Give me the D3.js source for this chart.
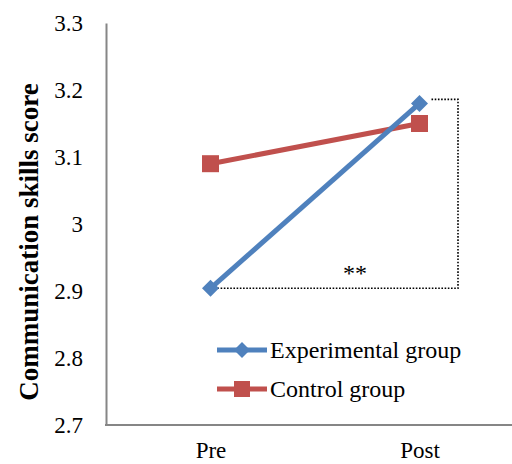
<!DOCTYPE html>
<html><head><meta charset="utf-8">
<script src="https://cdn.jsdelivr.net/npm/d3@7"></script>
<style>body{margin:0;background:#fff} svg text{font-family:"Liberation Serif","Times New Roman",Tinos,"DejaVu Serif",serif !important;}</style>
</head><body>
<svg id="c" width="512" height="464"></svg>
<script>
const categories = ["Pre", "Post"];
const experimental = [2.904, 3.18];
const control = [3.09, 3.15];
const yTicks = [2.7, 2.8, 2.9, 3, 3.1, 3.2, 3.3];
const seriesNames = ["Experimental group", "Control group"];

const svg = d3.select("#c");
const y = d3.scaleLinear().domain([2.7, 3.3]).range([425, 23]);
const x = d3.scalePoint().domain(categories).range([106, 524]).padding(0.5);

// axes
const yAxis = svg.append("g").attr("transform", "translate(106,0)")
  .call(d3.axisLeft(y).tickValues(yTicks).tickSize(0).tickPadding(23).tickFormat(d => d3.format("")(d)));
yAxis.select(".domain").attr("stroke", "#868686").attr("stroke-width", 2);
yAxis.selectAll("text").attr("font-size", 23).attr("fill", "#000");

svg.append("line").attr("x1", 105).attr("x2", 512).attr("y1", y(2.7)).attr("y2", y(2.7))
  .attr("stroke", "#868686").attr("stroke-width", 2);
const xAxis = svg.append("g").attr("transform", `translate(0,${y(2.7)})`)
  .call(d3.axisBottom(x).tickSize(0).tickPadding(17));
xAxis.select(".domain").remove();
xAxis.selectAll("text").attr("font-size", 23).attr("fill", "#000");

svg.append("text").attr("transform", "translate(38,242) rotate(-90)")
  .attr("text-anchor", "middle").attr("font-size", 27)
  .attr("font-weight", "bold").text("Communication skills score");

// bracket
const xPre = x("Pre"), xPost = x("Post");
const bx = 458;
svg.append("path")
  .attr("d", `M${xPost + 12},${y(experimental[1]) - 4}H${bx}V${y(experimental[0])}H${xPre + 6}`)
  .attr("fill", "none").attr("stroke", "#000").attr("stroke-width", 1.6).attr("stroke-dasharray", "1.6,1.6");
svg.append("text").attr("x", 355).attr("y", 281).attr("text-anchor", "middle")
  .attr("font-size", 24).text("**");

const line = d3.line().x((d, i) => x(categories[i])).y(d => y(d));
const blue = "#4F81BD", red = "#C0504D";
svg.append("path").datum(control).attr("d", line).attr("fill", "none").attr("stroke", red).attr("stroke-width", 5);
svg.append("path").datum(experimental).attr("d", line).attr("fill", "none").attr("stroke", blue).attr("stroke-width", 5);

const diamond = s => `M0,${-s}L${s},0L0,${s}L${-s},0Z`;
svg.selectAll(".sq").data(control).enter().append("rect")
  .attr("x", (d, i) => x(categories[i]) - 8.5).attr("y", d => y(d) - 8.5)
  .attr("width", 17).attr("height", 17).attr("fill", red);
svg.selectAll(".dm").data(experimental).enter().append("path")
  .attr("transform", (d, i) => `translate(${x(categories[i])},${y(d)})`)
  .attr("d", diamond(8.5)).attr("fill", blue);

// legend
const leg = [{name: seriesNames[0], c: blue, m: "d", yy: 350}, {name: seriesNames[1], c: red, m: "s", yy: 389}];
leg.forEach(l => {
  svg.append("line").attr("x1", 217).attr("x2", 267).attr("y1", l.yy).attr("y2", l.yy)
    .attr("stroke", l.c).attr("stroke-width", 5);
  if (l.m === "d") svg.append("path").attr("transform", `translate(242,${l.yy})`).attr("d", diamond(8)).attr("fill", l.c);
  else svg.append("rect").attr("x", 234).attr("y", l.yy - 8).attr("width", 16).attr("height", 16).attr("fill", l.c);
  svg.append("text").attr("x", 270).attr("y", l.yy + 8).attr("font-size", 24).text(l.name);
});
</script>
</body></html>
